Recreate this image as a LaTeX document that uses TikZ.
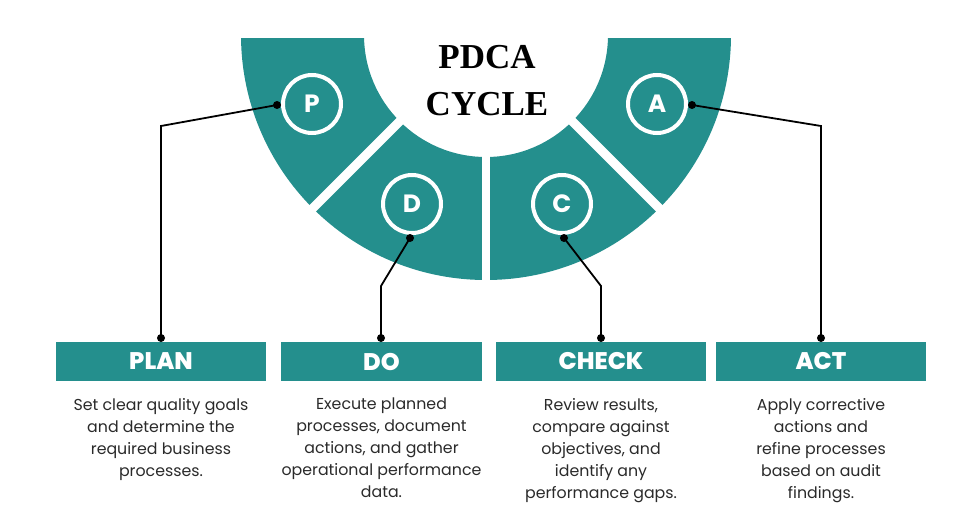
\documentclass[tikz,border=0pt]{standalone}
\usepackage{fontspec}
\setmainfont{Poppins}
\newfontfamily\titlefont{Liberation Serif}
\newfontfamily\headfont{Poppins ExtraBold}
\definecolor{pdcateal}{HTML}{248F8D}
\definecolor{bodygray}{HTML}{2A2A2A}
\tikzset{
  letterring/.style={circle, draw=white, line width=4pt, fill=pdcateal, text=white, minimum size=58pt, inner sep=0pt, font=\bfseries\fontsize{25}{25}\selectfont},
  phasebox/.style={rectangle, fill=pdcateal, text=white, minimum height=39pt, inner sep=0pt, font=\headfont\fontsize{24}{24}\selectfont},
  phasetext/.style={anchor=north, align=center, text=bodygray, inner sep=0pt, font=\fontsize{15.8}{22}\selectfont},
  joint/.style={circle, fill=black, minimum size=8pt, inner sep=0pt},
  leader/.style={draw=black, line width=1.8pt}
}

\begin{document}
\begin{tikzpicture}[x=1pt, y=-1pt]
   \useasboundingbox (0,0) rectangle (977,527);

   % draw half ring
   \begin{scope}
     \clip (200,39) rectangle (780,300);
     \fill[pdcateal, even odd rule] (486,35) circle (245pt) (486,35) circle (122pt);
     \draw[white, line width=8pt] (486,35) -- (486,300);
     \draw[white, line width=9pt] (486,35) -- ++(-200,200);
     \draw[white, line width=9pt] (486,35) -- ++(200,200);
   \end{scope}

   % draw title
   \node[font=\titlefont\bfseries\fontsize{35}{47}\selectfont, align=center] (title) at (487,81) {PDCA\\CYCLE};

   % draw letters
   \node[letterring] (ringP) at (312,104) {P};
   \node[letterring] (ringD) at (412,204) {D};
   \node[letterring] (ringC) at (562,204) {C};
   \node[letterring] (ringA) at (657,104) {A};

   % draw boxes
   \node[phasebox, minimum width=210pt] (boxP) at (161,361.5) {PLAN};
   \node[phasebox, minimum width=201pt] (boxD) at (381.5,361.5) {DO};
   \node[phasebox, minimum width=210pt] (boxC) at (601,361.5) {CHECK};
   \node[phasebox, minimum width=210pt] (boxA) at (821,361.5) {ACT};

   % draw descriptions
   \node[phasetext] (textP) at (161,398) {Set clear quality goals\\and determine the\\required business\\processes.};
   \node[phasetext] (textD) at (381.5,398) {Execute planned\\processes, document\\actions, and gather\\operational performance\\data.};
   \node[phasetext] (textC) at (601,398) {Review results,\\compare against\\objectives, and\\identify any\\performance gaps.};
   \node[phasetext] (textA) at (821,398) {Apply corrective\\actions and\\refine processes\\based on audit\\findings.};

   % draw joints
   \node[joint] (topP) at (277,105) {};
   \node[joint] (topD) at (410,238) {};
   \node[joint] (topC) at (564,238) {};
   \node[joint] (topA) at (692,105) {};
   \node[joint] (endP) at (161,338) {};
   \node[joint] (endD) at (381,338) {};
   \node[joint] (endC) at (601,338) {};
   \node[joint] (endA) at (821,338) {};

   % draw leaders
   \draw[leader] (topP.center) -- (161,126) -- (endP.center);
   \draw[leader] (topD.center) -- (381,286) -- (endD.center);
   \draw[leader] (topC.center) -- (601,286) -- (endC.center);
   \draw[leader] (topA.center) -- (821,126) -- (endA.center);
\end{tikzpicture}
\end{document}
